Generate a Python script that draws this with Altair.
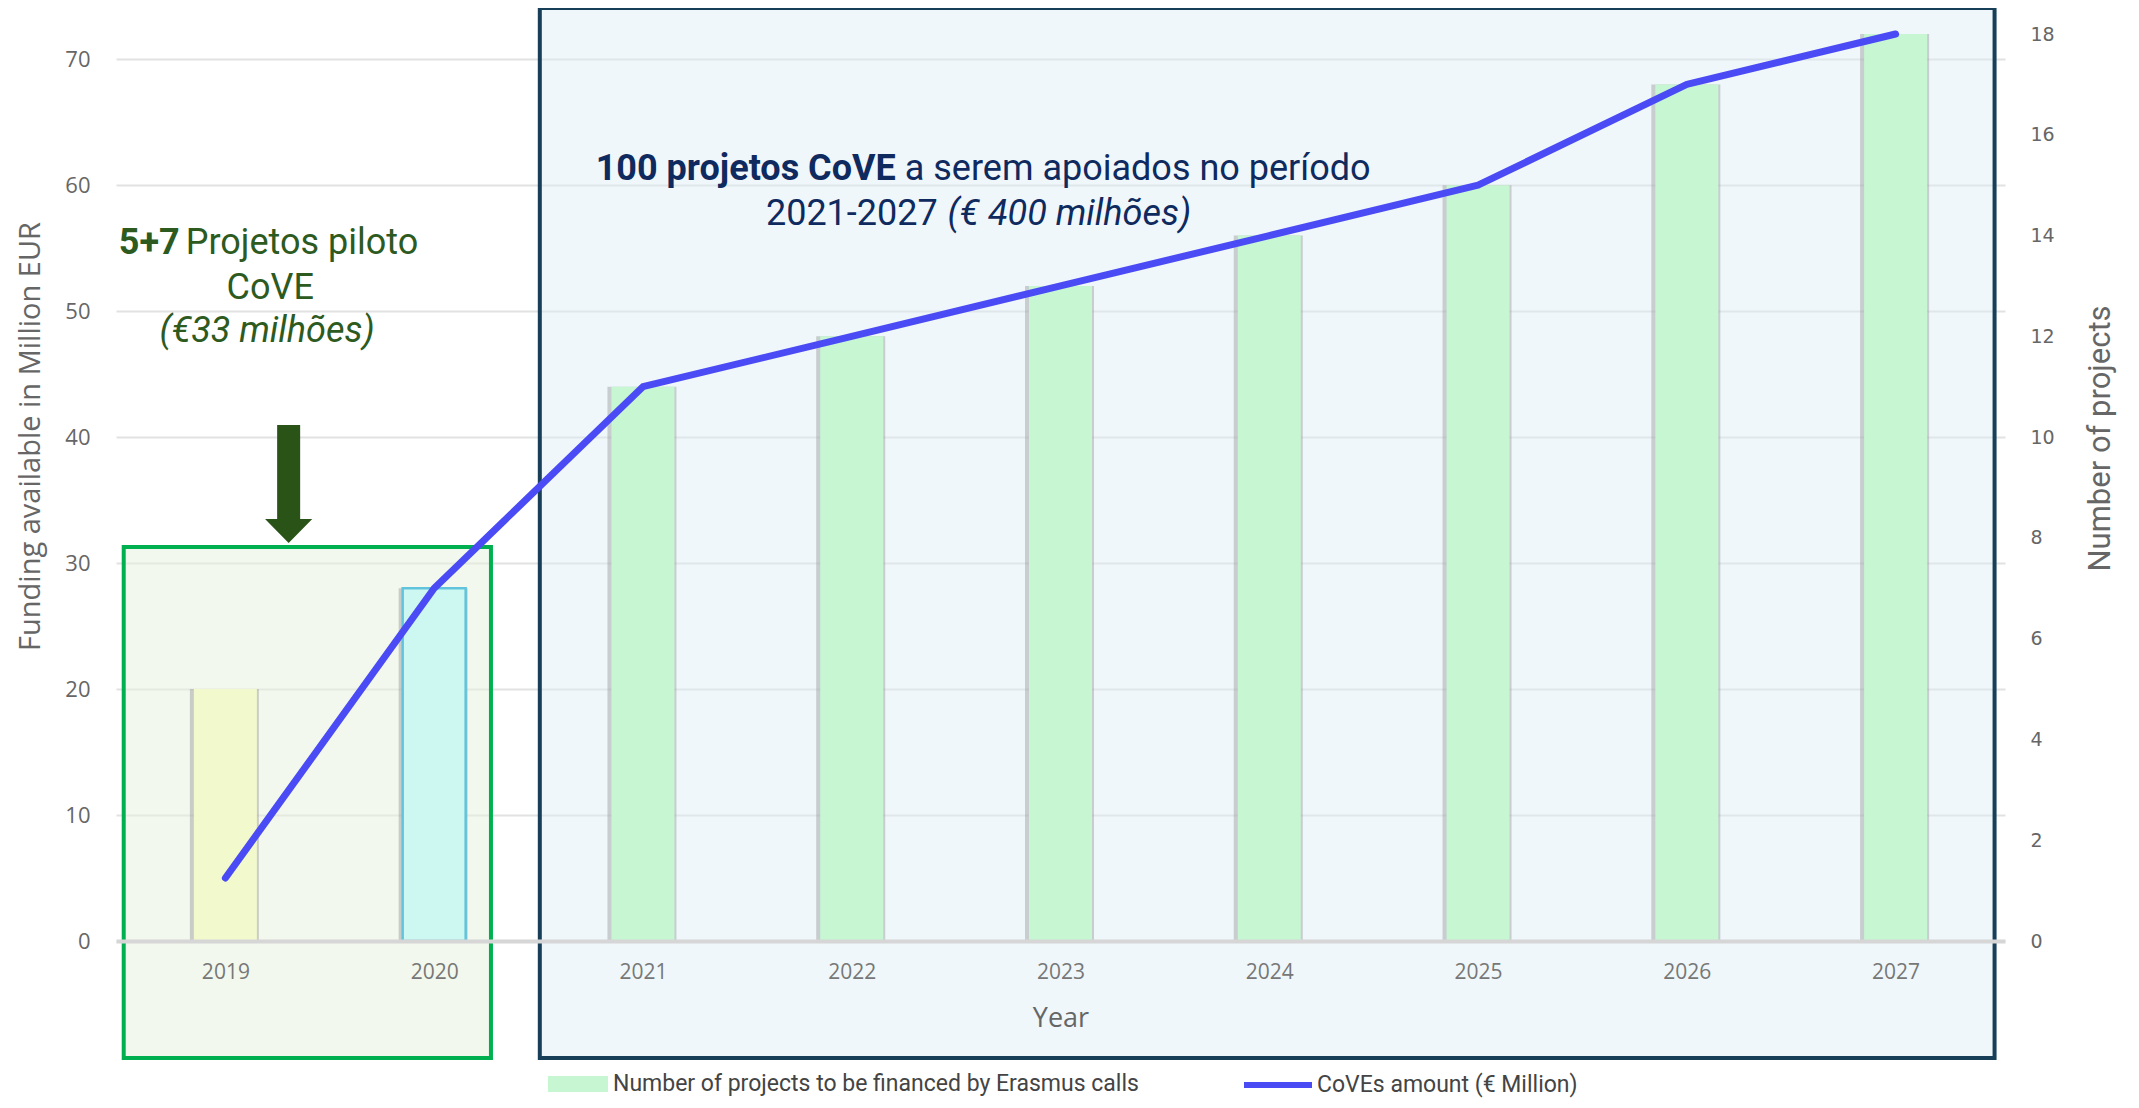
import altair as alt
import pandas as pd

# ---- data ----
years = [2019, 2020, 2021, 2022, 2023, 2024, 2025, 2026, 2027]
projects = [5, 7, 11, 12, 13, 14, 15, 17, 18]          # right axis (Number of projects)
funding = [5, 28, 44, 48, 52, 56, 60, 68, 72]          # left axis (Million EUR)
bar_series = "Number of projects to be financed by Erasmus calls"
line_series = "CoVEs amount (€ Million)"

left_ticks = [0, 10, 20, 30, 40, 50, 60, 70]
right_ticks = [0, 2, 4, 6, 8, 10, 12, 14, 16, 18]

df = pd.DataFrame({
    "year": years,
    "projects": projects,
    "funding": funding,
    "bars": [bar_series] * len(years),
    "line": [line_series] * len(years),
})

W, H = 1889, 907
x_scale = alt.Scale(domain=[2018.5, 2027.5], nice=False, zero=False)
yl_scale = alt.Scale(domain=[0, 72], nice=False)
yr_scale = alt.Scale(domain=[0, 18], nice=False)

x_axis = alt.Axis(values=years, format="d", title="Year", grid=False, ticks=False,
                  domainColor="#d6d6d6", domainWidth=4, labelPadding=20,
                  labelFontSize=21, labelColor="#777777", labelFont="Open Sans",
                  titleFont="Open Sans", titleFontSize=27, titleColor="#666666",
                  titleFontWeight="normal", titleY=77, titleBaseline="middle", zindex=1)
X = alt.X("year:Q", scale=x_scale, axis=x_axis)

# ---- layer A: highlight boxes (left-scale copy, no axis) ----
def box(x0, x1, y0, y1, fill, stroke, op):
    return alt.Chart(df).mark_rect(fill=fill, fillOpacity=op, stroke=stroke,
                                   strokeWidth=4).encode(
        x=alt.datum(x0, scale=x_scale, axis=x_axis, type="quantitative"),
        x2=alt.datum(x1),
        y=alt.datum(y0, scale=yl_scale, axis=None, type="quantitative"),
        y2=alt.datum(y1),
    ).transform_filter("datum.year == 2019")

layer_a = alt.layer(
    box(2018.513, 2020.272, -9.29, 31.28, "#e6f1dc", "#00b050", 0.5),
    box(2020.506, 2027.474, -9.29, 74.06, "#dcedf6", "#173f58", 0.45),
)

# ---- layer B: bars (right axis) ----
right_axis = alt.Axis(orient="right", values=right_ticks, grid=False, domain=False,
                      ticks=False, labelPadding=25, labelFontSize=19,
                      labelFont="DejaVu Sans", labelColor="#666666",
                      title="Number of projects", titleFont="Roboto", titleFontSize=31,
                      titleColor="#666666", titleFontWeight="normal", titleAngle=270,
                      titleX=95, titleY=404, titleAlign="center", titleBaseline="middle")

shadow = alt.Chart(df).mark_bar(size=69, color="#9a9a9a", opacity=0.45, xOffset=-1).encode(
    x=X,
    y=alt.Y("projects:Q", scale=yr_scale, axis=right_axis),
)
bars = alt.Chart(df).mark_bar(size=63, stroke="#62c3dc").encode(
    x=X,
    y=alt.Y("projects:Q", scale=yr_scale, axis=right_axis),
    color=alt.Color(
        "bars:N",
        scale=alt.Scale(domain=[bar_series], range=["#c6f6d2"]),
        legend=alt.Legend(orient="none", legendX=432, legendY=1020, title=None,
                          symbolType="M-1,-0.27H1V0.27H-1Z", symbolSize=3600,
                          symbolStrokeWidth=0, symbolOpacity=1, labelOffset=5,
                          labelFont="Roboto", labelFontSize=23, labelColor="#444444",
                          labelLimit=1000),
        condition=[{"test": "datum.year == 2019", "value": "#f2f9cc"},
                   {"test": "datum.year == 2020", "value": "#cdf8f1"}],
    ),
    strokeWidth=alt.condition("datum.year == 2020", alt.value(2.5), alt.value(0)),
)
layer_b = alt.layer(shadow, bars)

# ---- layer C: funding line, annotations (left axis) ----
left_axis = alt.Axis(orient="left", values=left_ticks, grid=True, gridColor="#e2e2e2",
                     gridWidth=2, domain=False, ticks=False, labelPadding=26,
                     labelFontSize=22, labelFont="Open Sans", labelColor="#666666",
                     title="Funding available in Million EUR", titleFont="Open Sans",
                     titleFontSize=29, titleColor="#666666", titleFontWeight="normal",
                     titleAngle=270, titleX=-86, titleY=402, titleAlign="center",
                     titleBaseline="middle")

line = alt.Chart(df).mark_line(strokeWidth=7, strokeCap="round", strokeJoin="round").encode(
    x=X,
    y=alt.Y("funding:Q", scale=yl_scale, axis=left_axis),
    stroke=alt.Stroke(
        "line:N",
        scale=alt.Scale(domain=[line_series], range=["#4b4bf5"]),
        legend=alt.Legend(orient="none", legendX=1125, legendY=1014, title=None,
                          symbolType="stroke", symbolSize=4624, symbolStrokeWidth=6,
                          labelOffset=2, labelFont="Roboto", labelFontSize=23,
                          labelColor="#444444", labelLimit=1000),
    ),
)

GREEN = "#2d5a1e"
NAVY = "#0f2a5e"

def label(text, xv, yv, color, align="center", weight="normal", style="normal"):
    return alt.Chart(df).mark_text(
        text=text, align=align, baseline="middle", font="Roboto", fontSize=36,
        fontWeight=weight, fontStyle=style, color=color,
    ).encode(
        x=alt.datum(xv), y=alt.datum(yv)
    ).transform_filter("datum.year == 2019")

arrow = alt.Chart(df).mark_point(
    shape="M-0.195,-1H0.195V0.593H0.4L0,1L-0.4,0.593H-0.195Z",
    size=13924, filled=True, color="#2a5318", opacity=1,
).encode(x=alt.datum(2019.303), y=alt.datum(36.28)).transform_filter("datum.year == 2019")

layer_c = alt.layer(
    line,
    label("5+7", 2018.781, 55.41, GREEN, align="right", weight="bold"),
    label("Projetos piloto", 2018.810, 55.41, GREEN, align="left"),
    label("CoVE", 2019.215, 51.84, GREEN),
    label("(€33 milhões)", 2019.200, 48.42, GREEN, style="italic"),
    label("100 projetos CoVE", 2022.211, 61.28, NAVY, align="right", weight="bold"),
    label("a serem apoiados no período", 2022.254, 61.28, NAVY, align="left"),
    label("2021-2027", 2022.412, 57.71, NAVY, align="right"),
    label("(€ 400 milhões)", 2022.459, 57.71, NAVY, align="left", style="italic"),
    arrow,
)

chart = alt.layer(layer_a, layer_b, layer_c).resolve_scale(
    y="independent", color="independent", stroke="independent"
).properties(
    width=W, height=H,
    autosize=alt.AutoSizeParams(type="none"),
    padding={"left": 108, "top": 26, "right": 120, "bottom": 159},
).configure_view(stroke=None)

chart.save("out.html", embed_options={"renderer": "svg", "actions": False})
